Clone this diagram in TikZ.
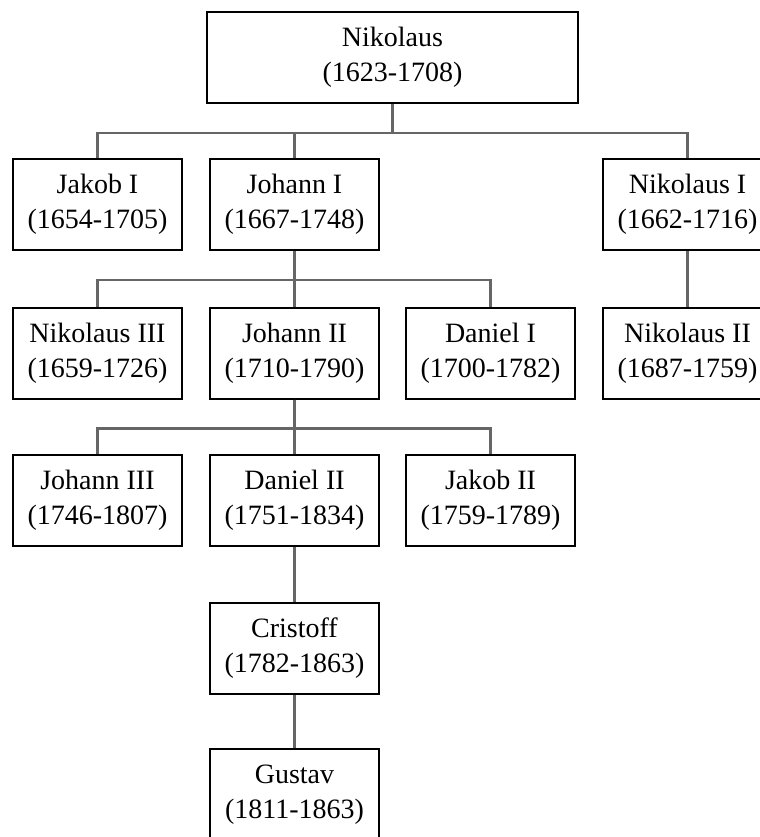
\documentclass[tikz,border=0pt]{standalone}
\usepackage{fontspec}
\setmainfont{Liberation Serif}

\begin{document}
\begin{tikzpicture}[x=0.5pt,y=-0.5pt]
\clip (0,0) rectangle (760,837);

\begin{scope}[every node/.style={rectangle,draw=black,line width=1pt,fill=white,
    align=center,inner sep=0pt,minimum width=84.5pt,minimum height=45.5pt,
    font=\fontsize{14pt}{17.5pt}\selectfont}]
    \node (nikolaus) at (392.5, 57.5) [minimum width=185.5pt] {Nikolaus\\(1623-1708)};

    \node (jakobI) at (97.5, 204.5) {Jakob I\\(1654-1705)};
    \node (johannI) at (294.5, 204.5) {Johann I\\(1667-1748)};
    \node (nikolausI) at (687.5, 204.5) {Nikolaus I\\(1662-1716)};

    \node (nikolausIII) at (97.5, 353) {Nikolaus III\\(1659-1726)};
    \node (johannII) at (294.5, 353) {Johann II\\(1710-1790)};
    \node (danielI) at (490.5, 353) {Daniel I\\(1700-1782)};
    \node (nikolausII) at (687.5, 353) {Nikolaus II\\(1687-1759)};

    \node (johannIII) at (97.5, 500) {Johann III\\(1746-1807)};
    \node (danielII) at (294.5, 500) {Daniel II\\(1751-1834)};
    \node (jakobII) at (490.5, 500) {Jakob II\\(1759-1789)};

    \node (cristoff) at (294.5, 648.5) {Cristoff\\(1782-1863)};

    \node (gustav) at (294.5, 794.5) {Gustav\\(1811-1863)};
\end{scope}

\begin{scope}[every path/.style={draw=black!60,line width=1.2pt}]
    \draw (nikolaus.south) -- ++(0,29) -| (jakobI.north);
    \draw (nikolaus.south) -- ++(0,29) -| (johannI.north);
    \draw (nikolaus.south) -- ++(0,29) -| (nikolausI.north);

    \draw (johannI.south) -- ++(0,29) -| (nikolausIII.north);
    \draw (johannI.south) -- (johannII.north);
    \draw (johannI.south) -- ++(0,29) -| (danielI.north);
    \draw (nikolausI.south) -- (nikolausII.north);

    \draw (johannII.south) -- ++(0,29) -| (johannIII.north);
    \draw (johannII.south) -- (danielII.north);
    \draw (johannII.south) -- ++(0,29) -| (jakobII.north);

    \draw (danielII.south) -- (cristoff.north);
    \draw (cristoff.south) -- (gustav.north);
\end{scope}
\end{tikzpicture}
\end{document}
